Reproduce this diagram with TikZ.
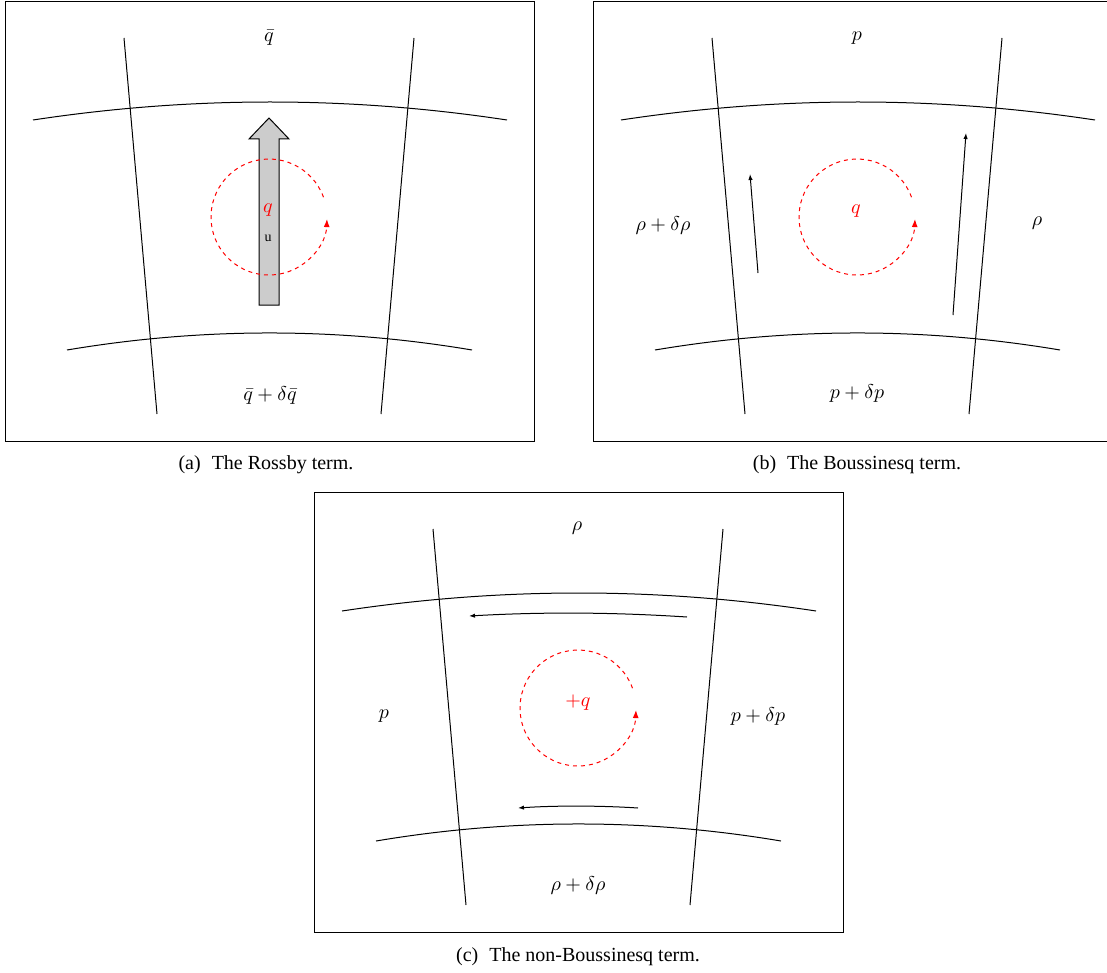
\documentclass[tikz,border=0pt]{standalone}
\usepackage{fontspec}
\setmainfont{Liberation Serif}
\usetikzlibrary{arrows.meta}
\newcommand\mygrid[1]{%
  \draw[frame] (5,1) rectangle (534,441);
  \coordinate (#1ML1) at (124,38); \coordinate (#1ML2) at (157,414);
  \coordinate (#1MR1) at (414,38); \coordinate (#1MR2) at (381,414);
  \coordinate (#1T1) at (33,120);  \coordinate (#1T2) at (507,120);
  \coordinate (#1B1) at (67,350);  \coordinate (#1B2) at (472,350);
  \draw[curve] (#1ML1) -- (#1ML2);
  \draw[curve] (#1MR1) -- (#1MR2);
  \draw[curve] (#1T1) .. controls (191,96) and (349,96) .. (#1T2);
  \draw[curve] (#1B1) .. controls (202,327.3) and (337,327.3) .. (#1B2);
}
\newcommand\mycirc[1]{%
  \coordinate (#1C0) at (323.5,197.2);
  \draw[flow] (#1C0) arc[start angle=-20, end angle=-358, radius=58];
}
\begin{document}
\begin{tikzpicture}[x=0.5pt,y=-0.5pt,
  frame/.style={draw=black, line width=0.4pt},
  curve/.style={line width=0.5pt},
  flow/.style={red, dash pattern=on 2pt off 2pt, line width=0.5pt, -{Latex[length=4pt,width=3pt]}},
  vel/.style={line width=0.5pt, -{Latex[length=3pt,width=2.2pt]}},
  lbl/.style={inner sep=0pt, font=\normalsize},
  capbox/.style={inner sep=0pt, font=\normalsize}]
\clip (0,0) rectangle (1107,973);
% ---------- panel (a)
\begin{scope}
  \mygrid{a}
  \draw[fill=black!20, line width=0.5pt] (259,305) -- (259,139) -- (249,139) -- (269,118)
     -- (289,139) -- (279,139) -- (279,305) -- cycle;
  \mycirc{a}
  \node[lbl] (aqtop) at (269,38) {$\bar q$};
  \node[lbl] (aqbot) at (270,395) {$\bar q+\delta\bar q$};
  \node[lbl, red] (aq) at (268,210) {$q$};
  \node[lbl, font=\scriptsize] (au) at (268,238) {u};
\end{scope}
% ---------- panel (b)
\begin{scope}[shift={(588,0)}]
  \mygrid{b}
  \mycirc{b}
  \coordinate (bv1s) at (170,273); \coordinate (bv1e) at (162,174);
  \coordinate (bv2s) at (365,315); \coordinate (bv2e) at (378,133);
  \draw[vel] (bv1s) -- (bv1e);
  \draw[vel] (bv2s) -- (bv2e);
  \node[lbl] (bptop) at (269,38) {$p$};
  \node[lbl] (bpbot) at (269,393) {$p+\delta p$};
  \node[lbl] (brl) at (75,226) {$\rho+\delta\rho$};
  \node[lbl] (brr) at (449,223) {$\rho$};
  \node[lbl, red] (bq) at (268,211) {$q$};
\end{scope}
% ---------- panel (c)
\begin{scope}[shift={(309,491)}]
  \mygrid{c}
  \mycirc{c}
  \coordinate (cv1s) at (378,126); \coordinate (cv1e) at (160,125);
  \coordinate (cv2s) at (329,317); \coordinate (cv2e) at (209,317);
  \draw[vel] (cv1s) .. controls (301,121) and (231,121) .. (cv1e);
  \draw[vel] (cv2s) .. controls (291,314.5) and (246,314.5) .. (cv2e);
  \node[lbl] (crtop) at (268,37) {$\rho$};
  \node[lbl] (crbot) at (269,394) {$\rho+\delta\rho$};
  \node[lbl] (cpl) at (75,225) {$p$};
  \node[lbl] (cpr) at (449,225) {$p+\delta p$};
  \node[lbl, red] (cq) at (269,212) {$+q$};
\end{scope}
% ---------- captions
\node[capbox] (capa) at (266,465) {(a)\hspace{0.55em}The Rossby term.};
\node[capbox] (capb) at (857,465) {(b)\hspace{0.55em}The Boussinesq term.};
\node[capbox] (capc) at (578,957) {(c)\hspace{0.55em}The non-Boussinesq term.};
\end{tikzpicture}
\end{document}
